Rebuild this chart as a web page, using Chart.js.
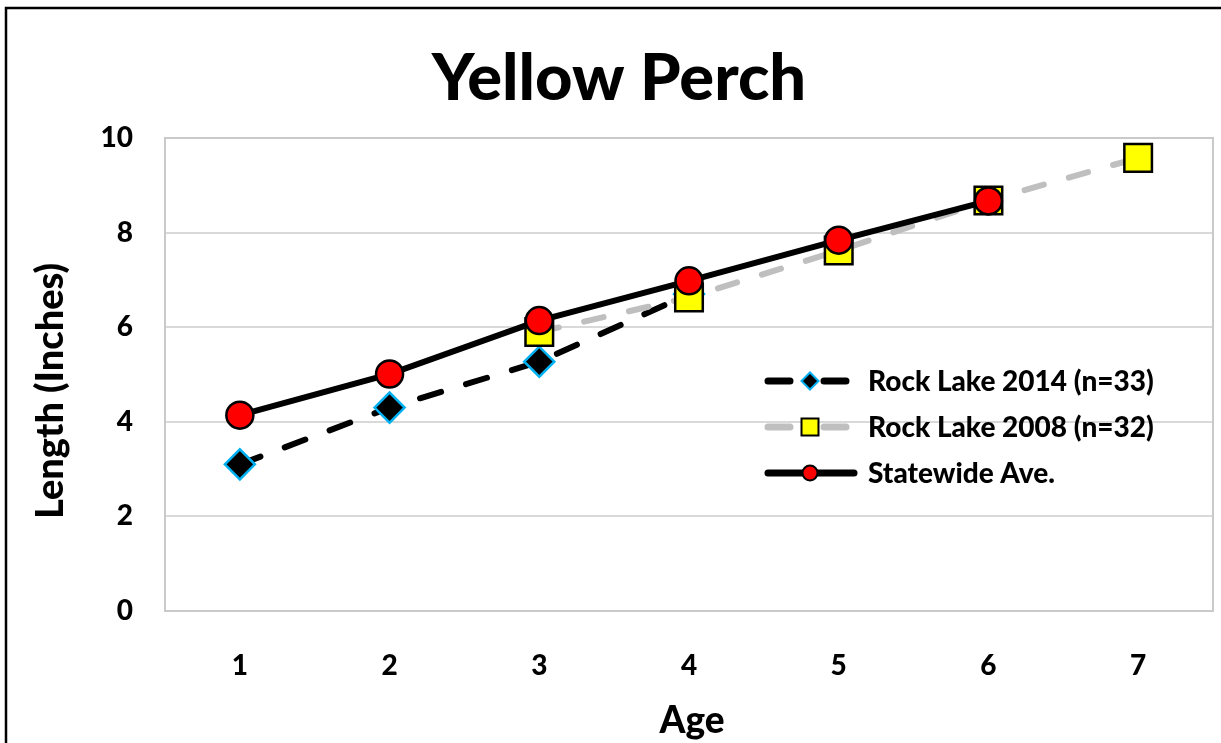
<!DOCTYPE html>
<html>
<head>
<meta charset="utf-8">
<script src="https://cdn.jsdelivr.net/npm/chart.js@4.4.1/dist/chart.umd.min.js"></script>
<style>
  html, body { margin: 0; padding: 0; background: #ffffff; overflow: hidden; }
  #c { display: block; }
</style>
</head>
<body>
<canvas id="c" width="1221" height="743"></canvas>
<script>
// ---- data ----
const ages = ['1', '2', '3', '4', '5', '6', '7'];
const rockLake2014 = [3.1, 4.3, 5.27, 6.7, null, null, null];
const rockLake2008 = [null, null, 5.9, 6.63, 7.62, 8.68, 9.58];
const statewideAve = [4.14, 5.01, 6.14, 6.98, 7.84, 8.67, null];
const seriesLabels = ['Rock Lake 2014 (n=33)', 'Rock Lake 2008 (n=32)', 'Statewide Ave.'];
const yTicks = [0, 2, 4, 6, 8, 10];
const chartTitle = 'Yellow Perch';
const xTitle = 'Age';
const yTitle = 'Length (Inches)';

const FONT = 'Lato';

const frameAndTexts = {
  id: 'frameAndTexts',
  beforeDraw(chart) {
    const ctx = chart.ctx;
    ctx.save();
    ctx.fillStyle = '#ffffff';
    ctx.fillRect(0, 0, chart.width, chart.height);
    ctx.strokeStyle = '#000000';
    ctx.lineWidth = 2.5;
    ctx.strokeRect(6, 8, chart.width + 20, chart.height + 20);
    ctx.restore();
  },
  beforeDatasetsDraw(chart) {
    const ctx = chart.ctx, a = chart.chartArea;
    ctx.save();
    ctx.strokeStyle = '#C9C9C9';
    ctx.lineWidth = 2;
    ctx.strokeRect(a.left, a.top, a.right - a.left, a.bottom - a.top);
    ctx.restore();
  },
  afterDraw(chart) {
    const ctx = chart.ctx;
    ctx.save();
    ctx.fillStyle = '#000000';
    // title
    ctx.font = '900 65px ' + FONT;
    ctx.textAlign = 'center';
    ctx.textBaseline = 'alphabetic';
    ctx.fillText(chartTitle, 619, 100);
    // x title
    ctx.font = '900 37px ' + FONT;
    ctx.fillText(xTitle, 692, 733);
    // y title
    ctx.font = '900 38px ' + FONT;
    ctx.translate(63, 391);
    ctx.rotate(-Math.PI / 2);
    ctx.fillText(yTitle, 0, 0);
    ctx.restore();

    // legend
    const rows = [381, 427, 473];
    chart.data.datasets.forEach((ds, i) => {
      const y = rows[i];
      ctx.save();
      ctx.strokeStyle = ds.borderColor;
      ctx.lineWidth = 7;
      ctx.lineCap = 'round';
      ctx.beginPath();
      if (ds.borderDash && ds.borderDash.length) {
        ctx.moveTo(768, y); ctx.lineTo(790, y);
        ctx.moveTo(824, y); ctx.lineTo(846, y);
      } else {
        ctx.moveTo(768, y); ctx.lineTo(854, y);
      }
      ctx.stroke();
      ctx.restore();
      ctx.save();
      ctx.fillStyle = ds.pointBackgroundColor;
      ctx.strokeStyle = ds.pointBorderColor;
      ctx.lineWidth = 2;
      Chart.helpers.drawPoint(ctx, {
        pointStyle: ds.pointStyle,
        radius: ds.legendRadius,
        borderWidth: 2,
        rotation: 0
      }, 810, y);
      ctx.restore();
      ctx.save();
      ctx.fillStyle = '#000000';
      ctx.font = '900 28px ' + FONT;
      ctx.textAlign = 'left';
      ctx.textBaseline = 'middle';
      ctx.fillText(ds.label, 868, y + 1);
      ctx.restore();
    });
  }
};

new Chart(document.getElementById('c'), {
  type: 'line',
  data: {
    labels: ages,
    datasets: [
      {
        label: seriesLabels[0],
        data: rockLake2014,
        order: 3,
        borderColor: '#000000',
        borderWidth: 6,
        borderDash: [22, 26],
        borderCapStyle: 'round',
        pointStyle: 'rectRot',
        pointRadius: 15,
        pointHoverRadius: 15,
        pointBorderWidth: 2.5,
        pointBorderColor: '#00B0F0',
        pointBackgroundColor: '#000000',
        legendRadius: 8.5,
        tension: 0
      },
      {
        label: seriesLabels[1],
        data: rockLake2008,
        order: 2,
        borderColor: '#BFBFBF',
        borderWidth: 6,
        borderDash: [20, 26],
        borderCapStyle: 'round',
        pointStyle: 'rect',
        pointRadius: 19.5,
        pointHoverRadius: 19.5,
        pointBorderWidth: 2.5,
        pointBorderColor: '#000000',
        pointBackgroundColor: '#FFFF00',
        legendRadius: 12,
        tension: 0
      },
      {
        label: seriesLabels[2],
        data: statewideAve,
        order: 1,
        borderColor: '#000000',
        borderWidth: 6,
        borderCapStyle: 'round',
        pointStyle: 'circle',
        pointRadius: 13.5,
        pointHoverRadius: 13.5,
        pointBorderWidth: 2.5,
        pointBorderColor: '#000000',
        pointBackgroundColor: '#FF0000',
        legendRadius: 7.5,
        tension: 0
      }
    ]
  },
  options: {
    responsive: false,
    animation: false,
    events: [],
    layout: { autoPadding: false, padding: { left: 0, right: 8, top: 138, bottom: 0 } },
    plugins: {
      legend: { display: false },
      title: { display: false },
      tooltip: { enabled: false }
    },
    scales: {
      x: {
        offset: true,
        grid: {
          display: true,
          drawOnChartArea: false,
          drawTicks: true,
          tickLength: 38,
          color: 'rgba(0,0,0,0)'
        },
        border: { display: false },
        ticks: {
          color: '#000000',
          font: { family: FONT, size: 28, weight: '900' },
          padding: 0,
          maxRotation: 0
        },
        afterFit(scale) {
          scale.height = 132;
          scale.paddingLeft = 0;
          scale.paddingRight = 0;
        }
      },
      y: {
        min: 0,
        max: 10,
        afterBuildTicks(scale) { scale.ticks = yTicks.map(v => ({ value: v })); },
        grid: { color: '#D9D9D9', lineWidth: 2, drawTicks: false },
        border: { display: false },
        ticks: {
          color: '#000000',
          font: { family: FONT, size: 28, weight: '900' },
          padding: 32
        },
        afterFit(scale) { scale.width = 165; }
      }
    }
  },
  plugins: [frameAndTexts]
});
</script>
</body>
</html>
